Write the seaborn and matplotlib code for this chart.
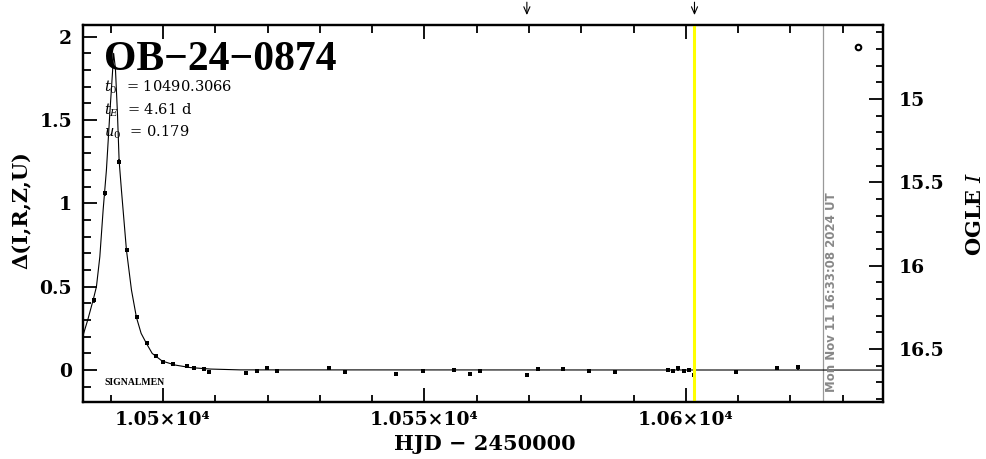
import matplotlib
matplotlib.use("Agg")
import matplotlib.pyplot as plt
from matplotlib.ticker import MultipleLocator, FixedLocator, FixedFormatter
import matplotlib.transforms as mtransforms
import seaborn as sns

# Data
obs_hjd = [10486.73, 10488.87, 10491.60, 10493.04, 10494.95, 10496.86, 10498.68,
           10499.96, 10501.99, 10504.67, 10506.00, 10507.86, 10508.82, 10515.84,
           10517.94, 10519.85, 10521.88, 10531.77, 10534.89, 10544.65, 10549.69,
           10555.74, 10558.80, 10560.71, 10569.59, 10571.69, 10576.59, 10581.56,
           10586.53, 10596.56, 10597.63, 10598.59, 10599.62, 10600.63, 10601.65,
           10609.62, 10617.52, 10621.54]
obs_delta = [0.42, 1.06, 1.25, 0.72, 0.316, 0.16, 0.084,
             0.05, 0.034, 0.024, 0.010, 0.008, -0.010, -0.016,
             -0.008, 0.010, -0.004, 0.010, -0.014, -0.026, -0.006,
             -0.002, -0.022, -0.008, -0.028, 0.004, 0.006, -0.008,
             -0.010, -0.002, -0.008, 0.010, -0.008, -0.002, -0.032,
             -0.014, 0.010, 0.016]
obs_err = [0.015, 0.015, 0.015, 0.012, 0.012, 0.012, 0.010,
           0.010, 0.010, 0.010, 0.010, 0.010, 0.010, 0.010,
           0.010, 0.010, 0.010, 0.012, 0.010, 0.010, 0.008,
           0.008, 0.010, 0.010, 0.010, 0.010, 0.008, 0.010,
           0.012, 0.010, 0.010, 0.015, 0.010, 0.008, 0.012,
           0.010, 0.012, 0.015]

model_hjd = [10484.72, 10485.59, 10486.63, 10487.26, 10487.91, 10488.54, 10489.17,
             10489.82, 10490.32, 10490.55, 10490.89, 10491.28, 10491.60, 10492.04,
             10493.00, 10493.96, 10494.91, 10495.81, 10496.82, 10497.92, 10499.83,
             10502.31, 10505.18, 10509.01, 10514.75, 10637.70]
model_delta = [0.21, 0.30, 0.42, 0.50, 0.68, 0.96, 1.20,
               1.54, 1.78, 1.90, 1.81, 1.54, 1.256, 1.08,
               0.72, 0.48, 0.316, 0.22, 0.16, 0.10, 0.054,
               0.030, 0.015, 0.006, 0.001, 0.0]

ogle_hjd = [10633.0]
ogle_delta = [1.94]

alert_hjd = [10569.59, 10601.65]
now_hjd = 10601.65
run_hjd = 10626.3

xtick_vals = [10500, 10550, 10600]
xtick_labels = ["1.05×10⁴", "1.055×10⁴", "1.06×10⁴"]

event_name = "OB\u221224\u22120874"
params = ["$t_0$  = 10490.3066", "$t_E$  = 4.61 d", "$u_0$  = 0.179"]
stamp = "Mon Nov 11 16:33:08 2024 UT"

sns.set_style("ticks")
plt.rcParams["font.family"] = ["DejaVu Serif"]
plt.rcParams["mathtext.fontset"] = "dejavuserif"
for key in ["text.color", "axes.labelcolor", "xtick.color", "ytick.color",
            "axes.edgecolor"]:
    plt.rcParams[key] = "black"

fig = plt.figure(figsize=(9.86, 4.59), dpi=100)
ax = fig.add_axes([0.0837, 0.1248, 0.8118, 0.8207])

xlo, xhi = 10484.6, 10637.7
ylo, yhi = -0.19, 2.07
mag0 = 16.626

# model + data
sns.lineplot(x=model_hjd, y=model_delta, ax=ax, color="black", lw=0.8,
             sort=False, estimator=None)
ax.errorbar(obs_hjd, obs_delta, yerr=obs_err, fmt="none", ecolor="black",
            elinewidth=1.2, capsize=0, zorder=3)
sns.scatterplot(x=obs_hjd, y=obs_delta, ax=ax, marker="s", s=10,
                color="black", edgecolor="black", linewidth=0, zorder=4)
ax.plot(ogle_hjd, ogle_delta, "o", mfc="white", mec="black", ms=4, mew=1.5)

ax.axvline(now_hjd, color="#ffff00", lw=2.2, zorder=5)
ax.axvline(run_hjd, color="#999999", lw=0.9, zorder=1)

for xa in alert_hjd:
    ax.annotate("", xy=(xa, 1.019), xycoords=("data", "axes fraction"),
                xytext=(xa, 1.068), textcoords=("data", "axes fraction"),
                arrowprops=dict(arrowstyle="->,head_length=0.5,head_width=0.22",
                                color="black", lw=0.8),
                annotation_clip=False)

ax.set_xlim(xlo, xhi)
ax.set_ylim(ylo, yhi)

# axes styling
for sp in ax.spines.values():
    sp.set_linewidth(1.6)
    sp.set_color("black")
ax.xaxis.set_major_locator(FixedLocator(xtick_vals))
ax.xaxis.set_major_formatter(FixedFormatter(xtick_labels))
ax.xaxis.set_minor_locator(MultipleLocator(10))
ax.yaxis.set_major_locator(MultipleLocator(0.5))
ax.yaxis.set_minor_locator(MultipleLocator(0.1))
ax.yaxis.set_major_formatter(plt.FuncFormatter(lambda v, p: f"{v:g}"))
ax.tick_params(which="both", direction="in", top=True, right=False,
               width=1.3, color="black")
ax.tick_params(which="major", length=10)
ax.tick_params(which="minor", length=5.4)
ax.tick_params(axis="x", pad=7, labelsize=13.5)
ax.tick_params(axis="y", pad=7.5, labelsize=13.5)
for lab in ax.get_xticklabels() + ax.get_yticklabels():
    lab.set_fontweight("bold")

ax.set_xlabel("HJD \u2212 2450000", fontsize=15, fontweight="bold")
ax.xaxis.set_label_coords(0.503, -0.086)
ax.set_ylabel("Δ(I,R,Z,U)", fontsize=15, fontweight="bold")
ax.yaxis.set_label_coords(-0.063, 0.509)

# right OGLE magnitude axis
ax2 = ax.twinx()
ax2.set_ylim(mag0 - ylo, mag0 - yhi)
ax2.yaxis.set_major_locator(MultipleLocator(0.5))
ax2.yaxis.set_minor_locator(MultipleLocator(0.1))
ax2.yaxis.set_major_formatter(plt.FuncFormatter(lambda v, p: f"{v:g}"))
ax2.tick_params(which="both", direction="in", width=1.3, color="black")
ax2.tick_params(which="major", length=10)
ax2.tick_params(which="minor", length=5.4)
ax2.tick_params(axis="y", pad=11, labelsize=13.5)
for lab in ax2.get_yticklabels():
    lab.set_fontweight("bold")
for sp in ax2.spines.values():
    sp.set_linewidth(1.6)
ax2.set_ylabel("OGLE $I$", fontsize=15, fontweight="bold")
ax2.yaxis.set_label_coords(1.1025, 0.50)

# annotations
ax.text(0.0269, 0.8806, event_name, transform=ax.transAxes, va="baseline",
        ha="left", fontsize=30, fontweight="bold", family=["Liberation Serif"])
for i, s in enumerate(params):
    ax.text(0.0269, 0.822 - i * 0.059, s, transform=ax.transAxes,
            va="baseline", ha="left", fontsize=10.5)
ax.text(0.0269, 0.045, "SIGNALMEN", transform=ax.transAxes, va="baseline",
        ha="left", fontsize=7, fontweight="bold", family=["Liberation Serif"])

trans = mtransforms.blended_transform_factory(ax.transData, ax.transAxes)
ax.text(run_hjd + 0.35, 0.026, stamp, transform=trans, rotation=90,
        ha="left", va="bottom", fontsize=8.5, fontweight="bold",
        color="#888888", family=["DejaVu Sans"])

fig.savefig("out.png", dpi=100)
